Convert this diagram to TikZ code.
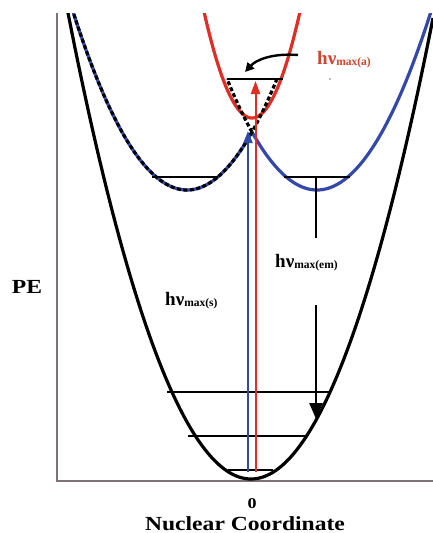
\documentclass[tikz,border=0pt]{standalone}
\usepackage{fontspec}
\setmainfont{Liberation Serif}
\usetikzlibrary{arrows.meta}
\definecolor{pered}{RGB}{224,46,36}
\definecolor{peblue}{RGB}{52,72,170}
\definecolor{axisgray}{RGB}{125,115,120}
\definecolor{lblred}{RGB}{208,68,48}
\newcommand\hvsub[1]{\raisebox{-1.5pt}{\fontsize{11.5}{11.5}\selectfont #1}}
\begin{document}
\begin{tikzpicture}[x=1pt,y=-1pt,
  curve/.style={line width=3.2pt},
  levelline/.style={line width=1.9pt, black},
  dashcurve/.style={line width=3.2pt, black, dash pattern=on 4pt off 2.5pt},
  biglbl/.style={font=\bfseries\fontsize{20}{20}\selectfont, inner sep=0pt, xscale=1.18},
  hvlbl/.style={font=\bfseries\fontsize{19}{19}\selectfont, inner sep=0pt, anchor=base west},
]
\useasboundingbox (0,0) rectangle (433,533);
\fill[white] (0,0) rectangle (433,533);

% axes
\coordinate (ytop) at (57,13);
\coordinate (origin) at (57,481);
\coordinate (xend) at (433,481);
\draw[axisgray, line width=1.5pt] (ytop) -- (origin) -- (xend);

\begin{scope}
\clip (0,13) rectangle (433,533);
% ground state
\draw[curve, black] plot[domain=66:433, samples=120] (\x, {479-(0.11796*(\x-251))^2});
% excited diabatic surfaces (blue)
\draw[curve, peblue] plot[domain=70:252, samples=80] (\x, {190-(0.11718*(\x-187))^2});
\draw[curve, peblue] plot[domain=252:433, samples=80] (\x, {190-(0.11718*(\x-317))^2});
% red upper surface
\draw[curve, pered] plot[domain=202:302, samples=80] (\x, {118-(0.21494*(\x-252))^2});
% dashed continuations
\draw[dashcurve] plot[domain=70:277, samples=100] (\x, {190-(0.11718*(\x-187))^2});
\draw[dashcurve] plot[domain=252:227, samples=30] (\x, {190-(0.11718*(\x-317))^2});
\end{scope}

% vibrational levels
\draw[levelline] (167,392) -- (330,392);
\draw[levelline] (188,436) -- (307,436);
\draw[levelline] (228,470) -- (273,470);
\draw[levelline] (152,177) -- (218,177);
\draw[levelline] (284,177) -- (350,177);
\draw[levelline] (227,79) -- (283,79);

% vertical absorption arrows
\coordinate (bstart) at (248,472);
\coordinate (btip) at (248,131);
\coordinate (rstart) at (255.5,472);
\coordinate (rtip) at (255.5,81);
\draw[line width=2pt, draw=peblue, fill=peblue, -{Triangle[width=9pt,length=12pt]}] (bstart) -- (btip);
\draw[line width=2pt, draw=pered, fill=pered, -{Triangle[width=9pt,length=13pt]}] (rstart) -- (rtip);

% emission arrow
\coordinate (emtop) at (316,177);
\coordinate (emgapa) at (316,238);
\coordinate (emgapb) at (316,305);
\coordinate (emtip) at (316,419);
\draw[line width=2.4pt] (emtop) -- (emgapa);
\draw[line width=2.4pt, -{Triangle[width=13pt,length=16pt]}] (emgapb) -- (emtip);

% curved arrow
\coordinate (cstart) at (298,55);
\coordinate (cend) at (245,72);
\draw[line width=2.4pt, -{Triangle[width=9pt,length=9pt]}] (cstart) .. controls (272,53) and (256,60) .. (cend);

% stray dot
\fill[gray] (330,79) circle (0.8);

% labels
\node[hvlbl, text=lblred] (hva) at (317,64) {hν\hvsub{max(a)}};
\node[hvlbl] (hvs) at (165,305) {hν\hvsub{max(s)}};
\node[hvlbl] (hvem) at (275,267) {hν\hvsub{max(em)}};
\node[biglbl, anchor=base] (pe) at (27,293) {PE};
\node[font=\bfseries\fontsize{15}{15}\selectfont, inner sep=0pt, xscale=1.2, anchor=base] (zero) at (252,508) {0};
\node[biglbl, anchor=base] (ncoord) at (245,530) {Nuclear Coordinate};
\end{tikzpicture}
\end{document}
